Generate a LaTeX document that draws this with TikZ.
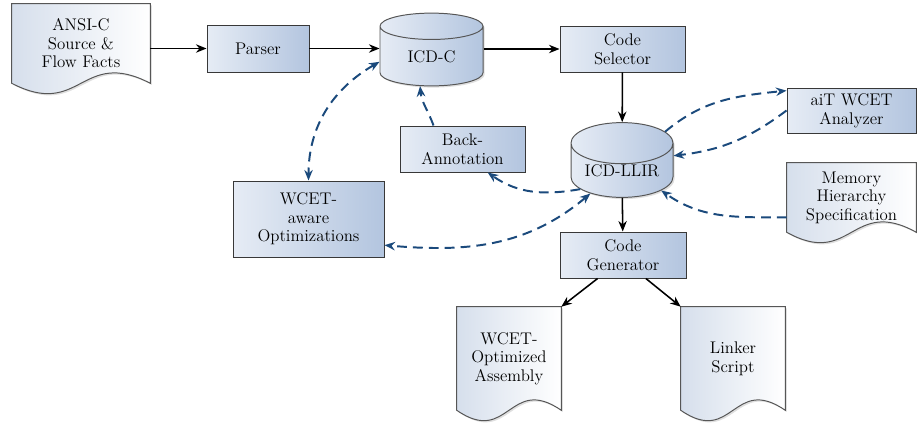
\documentclass[tikz,border=0pt]{standalone}
\usepackage{tikz}
\usetikzlibrary{shapes.geometric,arrows.meta,calc,shadows,backgrounds}

\definecolor{boxleft}{HTML}{E6ECF5}
\definecolor{boxright}{HTML}{B3C5DF}
\definecolor{docleft}{HTML}{D6DFEC}
\definecolor{linkblue}{HTML}{1B4A7C}
\definecolor{framegray}{HTML}{383838}

\newcommand{\nodefont}{\fontsize{12}{13.2}\selectfont}
\newcommand{\docshape}[1]{%
	\draw[docline] (#1.south west) -- (#1.north west) -- (#1.north east) -- (#1.south east)
		.. controls ($(#1.south)+(0,0.9)$) and ($(#1.south)+(0,-0.9)$) .. (#1.south west) -- cycle;
}

\begin{document}
\begin{tikzpicture}[>={Stealth[length=7.5pt,width=6pt]},
	box/.style={draw=framegray, line width=0.7pt, left color=boxleft, right color=boxright,
		align=center, font=\nodefont, inner sep=0pt},
	doc/.style={align=center, font=\nodefont, inner sep=0pt},
	docline/.style={draw=framegray!85, line width=0.7pt, left color=docleft, right color=white,
		drop shadow={opacity=0.25, shadow xshift=1.2pt, shadow yshift=-1.2pt}},
	store/.style={cylinder, shape border rotate=90, aspect=0.55, anchor=shape center,
		draw=framegray!85, line width=0.7pt, left color=boxleft, right color=boxright,
		font=\nodefont, inner sep=0pt,
		drop shadow={opacity=0.25, shadow xshift=1.2pt, shadow yshift=-1.2pt}},
	flow/.style={->, line width=1.1pt},
	link/.style={line width=1.4pt, linkblue, dash pattern=on 7pt off 4.3pt}]

	\useasboundingbox (0, 0) rectangle (22.925, -10.675);

	\node[doc, minimum width=3.45cm, minimum height=1.975cm] (ansi) at (2.025, -1.0875) {ANSI-C\\Source \&\\Flow Facts};
	\node[box, minimum width=2.55cm, minimum height=1.175cm] (parser) at (6.45, -1.2125) {Parser};
	\node[store, minimum width=2.575cm, minimum height=1.82cm] (icdc) at (10.7875, -1.2375) {ICD-C};
	\node[box, minimum width=3.125cm, minimum height=1.15cm] (codesel) at (15.5625, -1.225) {Code\\Selector};

	\node[store, minimum width=2.55cm, minimum height=1.87cm] (llir) at (15.55, -4.0) {ICD-LLIR};
	\node[box, minimum width=3.125cm, minimum height=1.15cm] (backann) at (11.5625, -3.725) {Back-\\Annotation};
	\node[box, minimum width=3.225cm, minimum height=1.125cm] (ait) at (21.2875, -2.7625) {aiT WCET\\Analyzer};
	\node[doc, minimum width=3.225cm, minimum height=1.725cm] (memory) at (21.2875, -4.9375) {Memory\\Hierarchy\\Specification};
	\node[box, minimum width=3.775cm, minimum height=1.9cm] (wcetopt) at (7.7125, -5.475) {WCET-\\aware\\Optimizations};

	\node[box, minimum width=3.15cm, minimum height=1.15cm] (codegen) at (15.575, -6.375) {Code\\Generator};
	\node[doc, minimum width=2.6cm, minimum height=2.575cm] (asm) at (12.725, -8.9625) {WCET-\\Optimized\\Assembly};
	\node[doc, minimum width=2.6cm, minimum height=2.575cm] (linker) at (18.325, -8.9625) {Linker\\Script};

	\begin{scope}[on background layer]
		\docshape{ansi}
		\docshape{memory}
		\docshape{asm}
		\docshape{linker}
	\end{scope}

	\draw[flow] (ansi.east |- parser.west) -- (parser.west);
	\draw[flow] (parser.east) -- (parser.east -| icdc.180);
	\draw[flow] (icdc.0 |- codesel.west) -- (codesel.west);
	\draw[flow] (codesel) -- (llir);
	\draw[flow] (llir) -- (codegen);
	\draw[flow] ($(codegen.south west)!0.3!(codegen.south east)$) -- (asm.north east);
	\draw[flow] ($(codegen.south west)!0.68!(codegen.south east)$) -- (linker.north west);

	\draw[link, <->] (icdc.186) to[out=210, in=90] (wcetopt.north);
	\draw[link, ->] ($(backann.north west)!0.27!(backann.north east)$) to[out=110, in=-85] (icdc.249);
	\draw[link, ->] (llir.204) to[out=190, in=-35] ($(backann.south west)!0.7!(backann.south east)$);
	\draw[link, <->] (llir.216) to[out=220, in=-5] (wcetopt.-19);
	\draw[link, ->] (llir.42) to[out=40, in=186] (ait.163);
	\draw[link, ->] (ait.west) to[bend left=15] (llir.16);
	\draw[link, ->] (memory.197) to[out=180, in=-35] (llir.-27);
\end{tikzpicture}
\end{document}
